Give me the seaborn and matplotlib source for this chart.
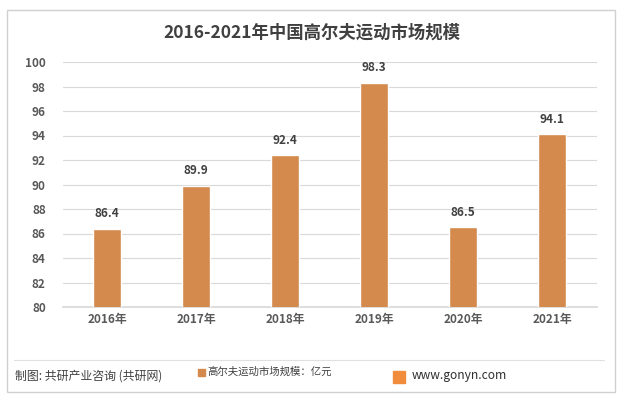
import matplotlib
matplotlib.use("Agg")
import matplotlib.pyplot as plt
import seaborn as sns
import pandas as pd
from matplotlib.patches import Rectangle
from matplotlib.lines import Line2D

years = ["2016年", "2017年", "2018年", "2019年", "2020年", "2021年"]
market_size = [86.4, 89.9, 92.4, 98.3, 86.5, 94.1]
y_ticks = [80, 82, 84, 86, 88, 90, 92, 94, 96, 98, 100]

title = "2016-2021年中国高尔夫运动市场规模"
legend_label = "高尔夫运动市场规模：亿元"
source_text = "制图: 共研产业咨询 (共研网)"
site_text = "www.gonyn.com"

sns.set_theme(style="white")
plt.rcParams['font.family'] = ['Noto Sans CJK SC', 'DejaVu Sans']

bar_color = "#D38A4C"
text_color = "#595959"

df = pd.DataFrame({"year": years, "value": market_size})

fig = plt.figure(figsize=(6.23, 3.98), dpi=100)
ax = fig.add_axes([62.5 / 623, 1 - 307 / 398, 534 / 623, 245 / 398])

sns.barplot(data=df, x="year", y="value", color=bar_color, width=0.315,
            saturation=1, ax=ax, zorder=3)

ax.set_ylim(80, 100)
ax.set_yticks(y_ticks)
ax.set_yticklabels([str(t) for t in y_ticks], fontsize=8.5, color=text_color,
                   fontweight="bold")
ax.set_xticks(range(len(years)))
ax.set_xticklabels(years, fontsize=8.5, color=text_color, fontweight="bold")
ax.tick_params(axis="both", length=0, pad=4)
ax.tick_params(axis="y", pad=12)
ax.grid(axis="y", color="#D9D9D9", linewidth=0.8, zorder=0)
ax.set_xlabel("")
ax.set_ylabel("")
for s in ["top", "right", "left"]:
    ax.spines[s].set_visible(False)
ax.spines["bottom"].set_color("#D9D9D9")

for i, v in enumerate(market_size):
    ax.text(i, v + 0.7, f"{v}", ha="center", va="bottom", fontsize=8.5,
            color="#404040", fontweight="bold")

fig.text(0.5, 1 - 33 / 398, title, ha="center", va="center", fontsize=12.5,
         fontweight="bold", color="#404040")

# outer border and footer separator
fig.patches.append(Rectangle((7 / 623, 1 - 392 / 398), 608 / 623, 382 / 398,
                             transform=fig.transFigure, fill=False,
                             edgecolor="#D0D0D0", linewidth=1))
fig.lines.append(Line2D([14 / 623, 604 / 623], [1 - 360 / 398, 1 - 360 / 398],
                        transform=fig.transFigure, color="#E0E0E0", linewidth=0.8))

fig.text(15 / 623, 1 - 376 / 398, source_text, ha="left", va="center",
         fontsize=8.6, color="#404040")
fig.patches.append(Rectangle((198 / 623, 1 - 376 / 398), 7 / 623, 7 / 398,
                             transform=fig.transFigure, color=bar_color))
fig.text(207 / 623, 1 - 372 / 398, legend_label, ha="left", va="center",
         fontsize=7.5, color="#404040")
fig.patches.append(Rectangle((393 / 623, 1 - 383 / 398), 12 / 623, 12 / 398,
                             transform=fig.transFigure, color="#F08C3C"))
fig.text(412 / 623, 1 - 376 / 398, site_text, ha="left", va="center",
         fontsize=8.7, color="#303030")

fig.savefig("out.png", dpi=100)
